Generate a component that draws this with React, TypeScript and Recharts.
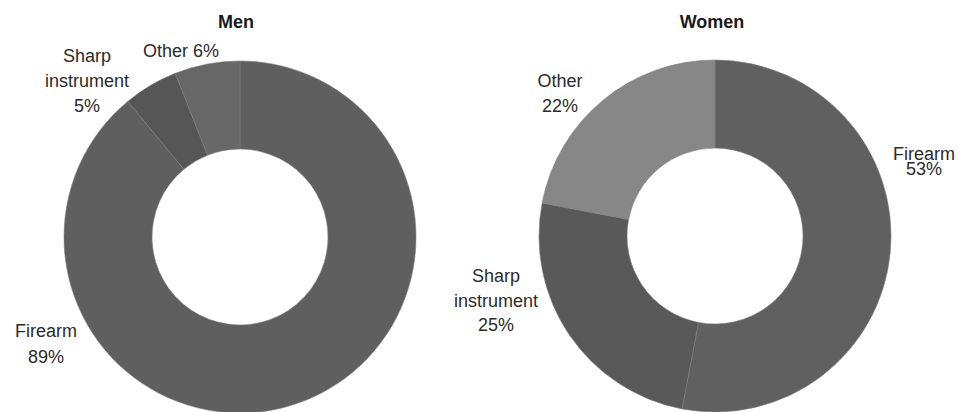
import React from "react";
import { PieChart, Pie, Cell } from "recharts";

// Slice order: clockwise from 12 o'clock
const categories = ["Firearm", "Sharp instrument", "Other"];
const menValues = [89, 5, 6];
const womenValues = [53, 25, 22];

const menColors = ["#5f5f5f", "#565656", "#676767"];
const womenColors = ["#606060", "#595959", "#878787"];

const titles = ["Men", "Women"];

// where each slice label sits (centre x, baseline of each line)
const menLabelPos = [
  { x: 46, ys: [337, 363] },
  { x: 87, ys: [62, 87, 112] },
  { x: 181, ys: [57] },
];
const womenLabelPos = [
  { x: 924, ys: [160, 175] },
  { x: 496, ys: [282, 307, 331] },
  { x: 560, ys: [87, 112] },
];

const FONT = "'Liberation Sans', Arial, Helvetica, sans-serif";

const toRows = (values: number[]) =>
  categories.map((name, i) => ({ name, value: values[i] }));

const labelLines = (name: string, value: number, count: number) => {
  const words = [...name.split(" "), `${value}%`];
  if (count === 1) return [words.join(" ")];
  return words;
};

const makeLabel = (positions: { x: number; ys: number[] }[]) => (props: any) => {
  const { index, name, value } = props;
  const pos = positions[index];
  const lines = labelLines(name, value, pos.ys.length);
  return (
    <text
      key={`lbl-${index}`}
      textAnchor="middle"
      fill="#2b2b2b"
      fontSize={18}
      fontFamily={FONT}
    >
      {lines.map((line, i) => (
        <tspan key={i} x={pos.x} y={pos.ys[i]}>
          {line}
        </tspan>
      ))}
    </text>
  );
};

export default function App() {
  const menData = toRows(menValues);
  const womenData = toRows(womenValues);

  return (
    <div style={{ position: "absolute", left: 0, top: 0, width: 964, height: 412, background: "#fff" }}>
      <PieChart width={964} height={412} margin={{ top: 0, right: 0, bottom: 0, left: 0 }}>
        <Pie
          data={menData}
          dataKey="value"
          nameKey="name"
          cx={240}
          cy={237}
          innerRadius={88}
          outerRadius={176}
          startAngle={90}
          endAngle={-270}
          stroke="#7a7a7a"
          strokeWidth={0.6}
          labelLine={false}
          label={makeLabel(menLabelPos)}
          isAnimationActive={false}
        >
          {menData.map((_, i) => (
            <Cell key={`m-${i}`} fill={menColors[i]} />
          ))}
        </Pie>
        <Pie
          data={womenData}
          dataKey="value"
          nameKey="name"
          cx={715}
          cy={236}
          innerRadius={88}
          outerRadius={176}
          startAngle={90}
          endAngle={-270}
          stroke="#7a7a7a"
          strokeWidth={0.6}
          labelLine={false}
          label={makeLabel(womenLabelPos)}
          isAnimationActive={false}
        >
          {womenData.map((_, i) => (
            <Cell key={`w-${i}`} fill={womenColors[i]} />
          ))}
        </Pie>
      </PieChart>
      {/* titles */}
      {titles.map((t, i) => (
        <div
          key={t}
          style={{
            position: "absolute",
            top: 13,
            left: i === 0 ? 136 : 612,
            width: 200,
            textAlign: "center",
            fontFamily: FONT,
            fontWeight: "bold",
            fontSize: 18,
            lineHeight: "18px",
            color: "#1a1a1a",
          }}
        >
          {t}
        </div>
      ))}
    </div>
  );
}
